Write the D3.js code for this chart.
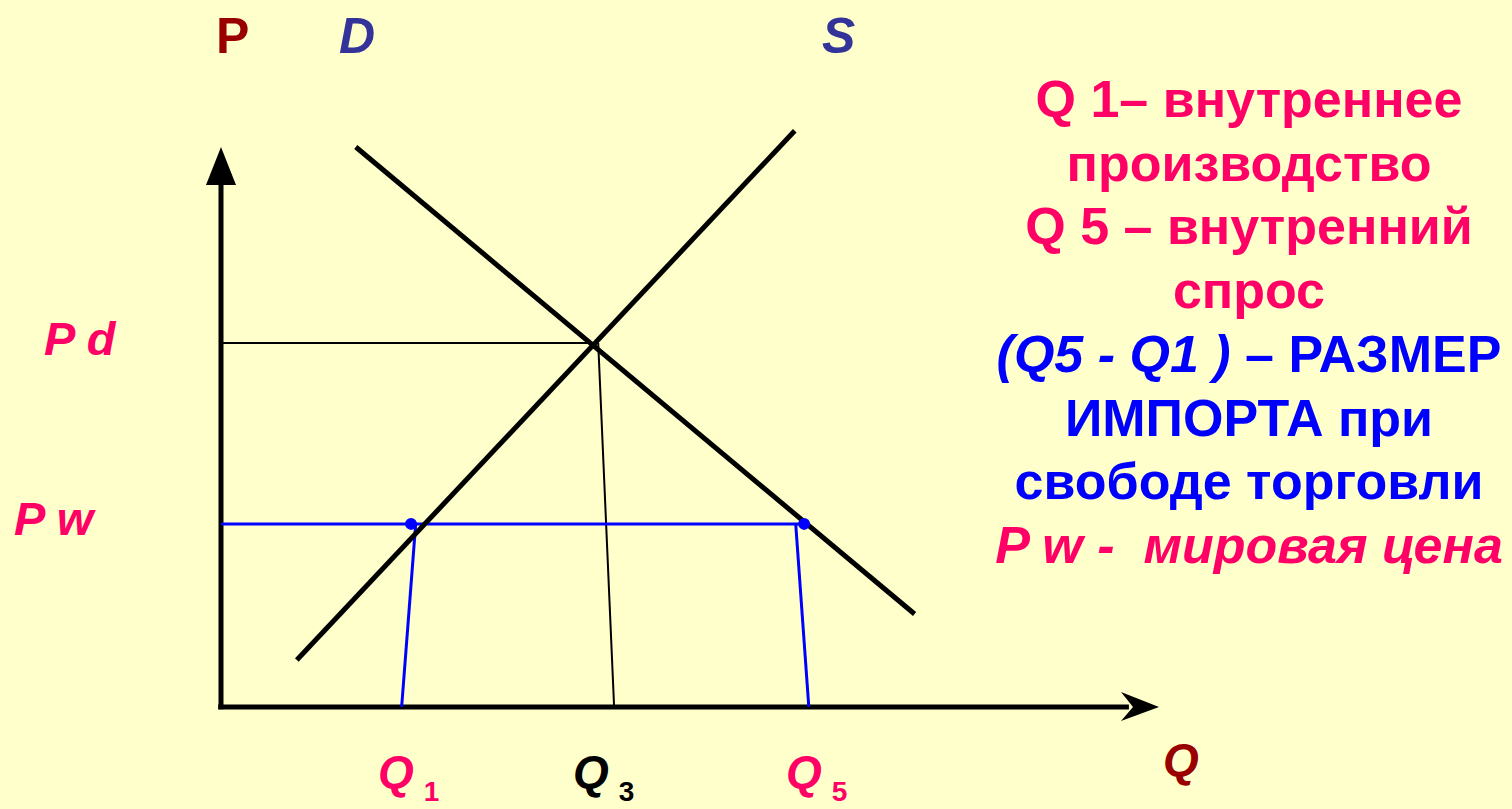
<!DOCTYPE html>
<html>
<head>
<meta charset="utf-8">
<script src="https://cdn.jsdelivr.net/npm/d3@7"></script>
<style>
  html, body { margin: 0; background: #FFFFCC; overflow: hidden; }
  svg { display: block; }
  text { font-family: "Liberation Sans", Arial, sans-serif; font-weight: bold; white-space: pre; }
</style>
</head>
<body>
<div id="display"></div>
<script>
// Curves in (quantity, price) units
const demand = [[1.44, 10.0], [7.41, 1.66]];
const supply = [[0.81, 0.84], [6.13, 10.29]];
const equilibrium = [4.0, 6.5];
const q3Foot = 4.2;

// Free trade at world price
const worldPrice = 3.27;
const worldPriceEnd = 6.24;
const tradeDots = [2.03, 6.23];            // Q1 and Q5 on the Pw line
const q1Guide = [[2.08, 3.27], [1.93, 0]];
const q5Guide = [[6.14, 3.27], [6.28, 0]];

// Labels
const priceLabels = ["P d", "P w"];
const quantityLabels = [["Q", "1"], ["Q", "3"], ["Q", "5"]];
const noteLines = [
    [["Q 1– внутреннее", "pink", false]],
    [["производство", "pink", false]],
    [["Q 5 – внутренний", "pink", false]],
    [["спрос", "pink", false]],
    [["(Q5 - Q1 )", "blue", true], [" – РАЗМЕР", "blue", false]],
    [["ИМПОРТА при", "blue", false]],
    [["свободе торговли", "blue", false]],
    [["P w -  мировая цена", "pink", true]]
];

const colors = { pink: "#FF0066", blue: "#0000FF", axisLabel: "#990000", curveLabel: "#333399" };

const width = 1512, height = 809;

const svg = d3.select("#display").append("svg")
    .attr("width", width).attr("height", height);

svg.append("rect").attr("width", width).attr("height", height).attr("fill", "#FFFFCC");

const x = d3.scaleLinear().domain([0, 10]).range([221, 1157]);
const y = d3.scaleLinear().domain([0, 10]).range([707, 147]);

const line = d3.line().x(d => x(d[0])).y(d => y(d[1]));

// Axes with arrows
svg.append("path").attr("d", line([[0, -0.04], [0, 9.4]]))
    .attr("stroke", "#000").attr("stroke-width", 5).attr("fill", "none");
svg.append("path").attr("d", line([[-0.03, 0], [9.7, 0]]))
    .attr("stroke", "#000").attr("stroke-width", 5).attr("fill", "none");

svg.append("polygon")
    .attr("points", [[x(0), y(10)], [x(0) - 15, y(10) + 38], [x(0) + 15, y(10) + 38]].join(" "))
    .attr("fill", "#000");
svg.append("polygon")
    .attr("points", [[x(10) + 2, y(0)], [x(10) - 36, y(0) - 15], [x(10) - 24, y(0)], [x(10) - 36, y(0) + 14]].join(" "))
    .attr("fill", "#000");

// Pd and Q3 guides
svg.append("path").attr("d", line([[0, equilibrium[1]], equilibrium]))
    .attr("stroke", "#000").attr("stroke-width", 2).attr("fill", "none");
svg.append("path").attr("d", line([[equilibrium[0] + 0.03, equilibrium[1]], [q3Foot, 0]]))
    .attr("stroke", "#000").attr("stroke-width", 2).attr("fill", "none");

// Pw line and guides
svg.append("path").attr("d", line([[0, worldPrice], [worldPriceEnd, worldPrice]]))
    .attr("stroke", colors.blue).attr("stroke-width", 3).attr("fill", "none");
[q1Guide, q5Guide].forEach(g => {
    svg.append("path").attr("d", line(g))
        .attr("stroke", colors.blue).attr("stroke-width", 3).attr("fill", "none");
});

// Demand and supply
[demand, supply].forEach(c => {
    svg.append("path").attr("d", line(c))
        .attr("stroke", "#000").attr("stroke-width", 5).attr("fill", "none");
});

svg.selectAll("circle.dot").data(tradeDots).enter().append("circle")
    .attr("class", "dot")
    .attr("cx", d => x(d)).attr("cy", y(worldPrice)).attr("r", 6)
    .attr("fill", colors.blue);

// Axis and curve names
svg.append("text").attr("x", 216).attr("y", 53).attr("font-size", 50)
    .attr("fill", colors.axisLabel).text("P");
svg.append("text").attr("x", 339).attr("y", 53).attr("font-size", 50).attr("font-style", "italic")
    .attr("fill", colors.curveLabel).text("D");
svg.append("text").attr("x", 822).attr("y", 53).attr("font-size", 50).attr("font-style", "italic")
    .attr("fill", colors.curveLabel).text("S");
svg.append("text").attr("x", 1163).attr("y", 776).attr("font-size", 46).attr("font-style", "italic")
    .attr("fill", colors.axisLabel).text("Q");

// Price labels
const priceX = [44, 14], priceY = [355, 535];
priceLabels.forEach((t, i) => {
    svg.append("text").attr("x", priceX[i]).attr("y", priceY[i])
        .attr("font-size", 47).attr("font-style", "italic")
        .attr("fill", colors.pink).text(t);
});

// Quantity labels
const qX = [378, 573, 786], qColors = [colors.pink, "#000", colors.pink];
quantityLabels.forEach((q, i) => {
    const t = svg.append("text").attr("x", qX[i]).attr("y", 788)
        .attr("font-size", 46).attr("font-style", "italic").attr("fill", qColors[i]);
    t.append("tspan").text(q[0]);
    t.append("tspan").attr("font-size", 28).attr("font-style", "normal")
        .attr("dx", 10).attr("dy", 13).text(q[1]);
});

// Notes on the right
noteLines.forEach((parts, i) => {
    const t = svg.append("text").attr("x", 1249).attr("y", 117 + i * 63.7)
        .attr("font-size", 52).attr("text-anchor", "middle");
    parts.forEach(p => {
        t.append("tspan").attr("fill", colors[p[1]])
            .attr("font-style", p[2] ? "italic" : "normal").text(p[0]);
    });
});
</script>
</body>
</html>
